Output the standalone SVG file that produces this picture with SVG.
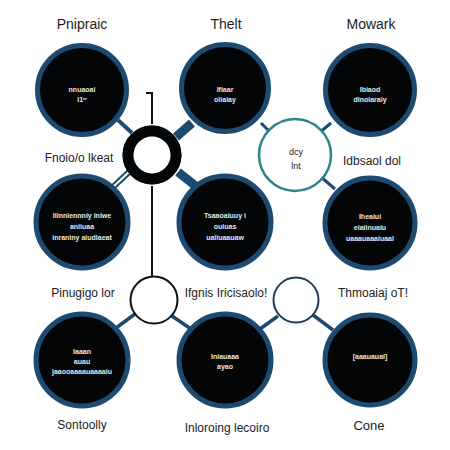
<svg xmlns="http://www.w3.org/2000/svg" width="450" height="450" viewBox="0 0 450 450">
<style>
.big{fill:#040506;stroke:#1d4a70;stroke-width:5}
.lbl{font-family:"Liberation Sans",Arial,sans-serif;font-size:14px;fill:#222;text-anchor:middle}
.in{font-family:"Liberation Sans",Arial,sans-serif;font-size:7px;font-weight:bold;fill:#e8e8e8;text-anchor:middle}
.c{stroke:#1d4a70;fill:none}
</style>
<rect width="450" height="450" fill="#ffffff"/>
<g id="connectors">
  <line class="c" x1="118" y1="120" x2="132" y2="133" stroke-width="4"/>
  <line class="c" x1="176" y1="137" x2="192" y2="123" stroke-width="9"/>
  <line class="c" x1="178" y1="172" x2="197" y2="187" stroke-width="9"/>
  <line x1="129" y1="172" x2="113" y2="187" stroke="#1f4a5a" stroke-width="6"/>
  <line x1="129" y1="172" x2="113" y2="187" stroke="#ffffff" stroke-width="2"/>
  <line class="c" x1="261" y1="123" x2="271" y2="133" stroke-width="3"/>
  <line class="c" x1="319" y1="133" x2="331" y2="123" stroke-width="3"/>
  <line class="c" x1="321" y1="177" x2="335" y2="189" stroke-width="3"/>
  <polyline points="146,93 152,93 152,124" fill="none" stroke="#111" stroke-width="2"/>
  <line x1="152" y1="186" x2="152" y2="276" stroke="#111" stroke-width="2"/>
  <line class="c" x1="135" y1="314" x2="116" y2="328" stroke-width="3.5"/>
  <line class="c" x1="172" y1="316" x2="191" y2="329" stroke-width="3.5"/>
  <line class="c" x1="260" y1="329" x2="278" y2="316" stroke-width="3.5"/>
  <line class="c" x1="313" y1="315" x2="333" y2="330" stroke-width="3.5"/>
</g>
<g id="hub">
  <circle cx="152" cy="155" r="29.5" fill="#1d4a70"/>
  <circle cx="152" cy="155" r="24" fill="none" stroke="#040506" stroke-width="11"/>
  <circle cx="152" cy="155" r="18.5" fill="#fff"/>
</g>
<g id="n-teal">
  <circle cx="295" cy="155" r="36" fill="#fff" stroke="#2a8688" stroke-width="2.5"/>
  <text class="lbl" x="296" y="155" style="font-size:9px">dcy</text>
  <text class="lbl" x="296" y="169" style="font-size:9px">lnt</text>
</g>
<g id="n-small-left">
  <circle cx="154" cy="300" r="23.5" fill="#fff" stroke="#111" stroke-width="2"/>
</g>
<g id="n-small-right">
  <circle cx="296" cy="300" r="22.5" fill="#fff" stroke="#1f3a52" stroke-width="2"/>
</g>
<g id="n1">
  <circle class="big" cx="82" cy="90" r="44.5"/>
  <text class="in" x="82" y="92">nnuaoai</text>
  <text class="in" x="82" y="102">I1ʷ</text>
</g>
<g id="n2">
  <circle class="big" cx="225" cy="88" r="43.5"/>
  <text class="in" x="225" y="92">Ifiaar</text>
  <text class="in" x="225" y="102">oliaiay</text>
</g>
<g id="n3">
  <circle class="big" cx="370" cy="90" r="44.5"/>
  <text class="in" x="370" y="92">Ibiaod</text>
  <text class="in" x="370" y="102">dinoiaraiy</text>
</g>
<g id="n4">
  <circle class="big" cx="82" cy="222" r="46"/>
  <text class="in" x="82" y="218">Iiinniennniy iniwe</text>
  <text class="in" x="82" y="229">aniiuaa</text>
  <text class="in" x="82" y="240">inraniny aiudlaeat</text>
</g>
<g id="n5">
  <circle class="big" cx="225" cy="222" r="46"/>
  <text class="in" x="225" y="218">Tsaaoaiuuy i</text>
  <text class="in" x="225" y="229">ouiuas</text>
  <text class="in" x="225" y="240">uaiiuaauaw</text>
</g>
<g id="n6">
  <circle class="big" cx="370" cy="223" r="45"/>
  <text class="in" x="370" y="219">Iheaiui</text>
  <text class="in" x="370" y="230">eiaiinuaiu</text>
  <text class="in" x="370" y="241">uaaauaaaiuaal</text>
</g>
<g id="n7">
  <circle class="big" cx="82" cy="360" r="46"/>
  <text class="in" x="82" y="354">Iaaan</text>
  <text class="in" x="82" y="364">auau</text>
  <text class="in" x="82" y="374">jaaooaaaauaaaaiu</text>
</g>
<g id="n8">
  <circle class="big" cx="225" cy="360" r="46"/>
  <text class="in" x="225" y="359">Iniauaaa</text>
  <text class="in" x="225" y="369">ayao</text>
</g>
<g id="n9">
  <circle class="big" cx="370" cy="360" r="45"/>
  <text class="in" x="370" y="359">[aaauaual]</text>
</g>
<g id="labels">
  <text class="lbl" x="82" y="29">Pnipraic</text>
  <text class="lbl" x="226" y="29">Thelt</text>
  <text class="lbl" x="371" y="29">Mowark</text>
  <text class="lbl" x="79" y="162" style="font-size:12px">Fnoio/o lkeat</text>
  <text class="lbl" x="372" y="165" style="font-size:12px">Idbsaol dol</text>
  <text class="lbl" x="83" y="297" style="font-size:12px">Pinugigo lor</text>
  <text class="lbl" x="226" y="297" style="font-size:12px">Ifgnis Iricisaolo!</text>
  <text class="lbl" x="373" y="297" style="font-size:12px">Thmoaiaj oT!</text>
  <text class="lbl" x="82" y="429" style="font-size:12px">Sontoolly</text>
  <text class="lbl" x="227" y="432" style="font-size:12px">Inloroing lecoiro</text>
  <text class="lbl" x="369" y="430" style="font-size:13px">Cone</text>
</g>
</svg>
